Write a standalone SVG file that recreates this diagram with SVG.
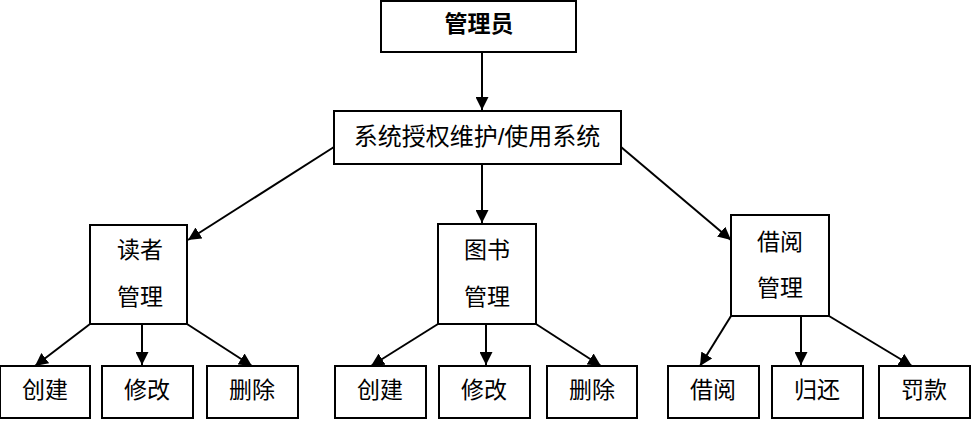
<svg xmlns="http://www.w3.org/2000/svg" width="976" height="425" viewBox="0 0 976 425">
<defs>
<style>
rect{fill:#fff;stroke:#000;stroke-width:2}
text{font-family:"Liberation Sans","Noto Sans CJK SC",sans-serif;font-size:23px;fill:#000;text-anchor:middle;dominant-baseline:central}
.b{font-weight:bold}
#connectors line{stroke:#000;stroke-width:2;marker-end:url(#ah)}
</style>
<marker id="ah" viewBox="0 0 10 10" refX="10" refY="5" markerWidth="6.5" markerHeight="6.5" markerUnits="strokeWidth" orient="auto">
<path d="M0,0 L10,5 L0,10 z" fill="#000"/>
</marker>
</defs>
<rect x="0" y="0" width="976" height="425" style="fill:#fff;stroke:none"/>
<g id="connectors">
<line x1="482" y1="52" x2="482" y2="110"/>
<line x1="334" y1="147" x2="188" y2="240"/>
<line x1="482" y1="164" x2="482" y2="223"/>
<line x1="621" y1="147" x2="731" y2="240"/>
<line x1="90" y1="324" x2="35" y2="366"/>
<line x1="142" y1="324" x2="142" y2="365"/>
<line x1="187" y1="324" x2="252" y2="366"/>
<line x1="438" y1="324" x2="371" y2="366"/>
<line x1="486" y1="324" x2="486" y2="365"/>
<line x1="536" y1="324" x2="601" y2="366"/>
<line x1="731" y1="316" x2="700" y2="366"/>
<line x1="801" y1="316" x2="801" y2="365"/>
<line x1="829" y1="316" x2="912" y2="366"/>
</g>
<g id="admin"><rect x="381" y="1" width="195" height="51"/><text class="b" x="479" y="24">管理员</text></g>
<g id="system"><rect x="334" y="111" width="287" height="53"/><text x="477" y="136" style="font-size:24px">系统授权维护/使用系统</text></g>
<g id="reader"><rect x="90" y="225" width="97" height="99"/><text x="140" y="250">读者</text><text x="140" y="297">管理</text></g>
<g id="book"><rect x="438" y="224" width="98" height="100"/><text x="487" y="250">图书</text><text x="487" y="297">管理</text></g>
<g id="borrow"><rect x="731" y="215" width="98" height="101"/><text x="780" y="242">借阅</text><text x="780" y="288">管理</text></g>
<g id="r-create"><rect x="0" y="366" width="90" height="52"/><text x="45" y="390">创建</text></g>
<g id="r-edit"><rect x="102" y="366" width="91" height="52"/><text x="147" y="390">修改</text></g>
<g id="r-delete"><rect x="207" y="366" width="91" height="52"/><text x="252" y="390">删除</text></g>
<g id="b-create"><rect x="335" y="366" width="91" height="52"/><text x="380" y="390">创建</text></g>
<g id="b-edit"><rect x="439" y="366" width="91" height="52"/><text x="484" y="390">修改</text></g>
<g id="b-delete"><rect x="547" y="366" width="90" height="52"/><text x="592" y="390">删除</text></g>
<g id="l-borrow"><rect x="668" y="366" width="91" height="52"/><text x="713" y="390">借阅</text></g>
<g id="l-return"><rect x="772" y="366" width="91" height="52"/><text x="817" y="390">归还</text></g>
<g id="l-fine"><rect x="879" y="366" width="91" height="52"/><text x="924" y="390">罚款</text></g>
</svg>
